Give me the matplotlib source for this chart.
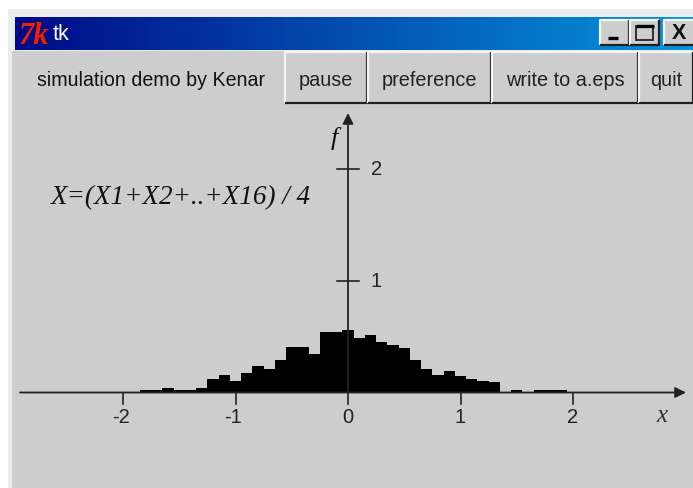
import numpy as np
import matplotlib
matplotlib.use("Agg")
import matplotlib.pyplot as plt
from matplotlib.patches import Rectangle

W, H = 693, 489
bin_left = -1.85
bin_width = 0.1
density = [0.024, 0.024, 0.038, 0.024, 0.024, 0.038, 0.125, 0.158, 0.107, 0.176,
           0.241, 0.208, 0.292, 0.408, 0.408, 0.342, 0.542, 0.542, 0.556,
           0.491, 0.509, 0.455, 0.426, 0.393, 0.292, 0.208, 0.158, 0.190, 0.143,
           0.125, 0.107, 0.092, 0.0, 0.024, 0.006, 0.024, 0.024, 0.024, 0.0]
x_ticks = [-2, -1, 0, 1, 2]
y_ticks = [1, 2]
buttons = [("pause", 285, 367), ("preference", 368, 491), ("write to a.eps", 492, 638), ("quit", 639, 693)]
title_text = "tk"
header_label = "simulation demo by Kenar"
formula = "X=(X1+X2+..+X16) / 4"

GREY = "#cdcdcd"
SANS = "Liberation Sans"
SERIF = "Liberation Serif"

fig = plt.figure(figsize=(W / 100, H / 100), dpi=100, facecolor="white")

# window chrome in pixel coordinates
ui = fig.add_axes([0, 0, 1, 1], zorder=1)
ui.set_xlim(0, W); ui.set_ylim(H, 0); ui.axis("off")
ui.add_patch(Rectangle((8, 10), W, H, fc="#ececec", ec="none"))
ui.add_patch(Rectangle((12, 52), W, H, fc=GREY, ec="none"))
grad = np.linspace(0, 1, 256)[None, :, None]
c0, c1 = np.array([0, 10, 135]) / 255, np.array([5, 150, 220]) / 255
ui.imshow(c0 + (c1 - c0) * grad, extent=(15, W, 51, 18), aspect="auto", interpolation="bilinear", zorder=1)
ui.set_xlim(0, W); ui.set_ylim(H, 0)
ui.text(34, 36, "7k", color="#f02000", fontsize=22, fontweight="bold", family=SERIF, style="italic",
        ha="center", va="center", zorder=3)
ui.text(53, 34.5, title_text, color="white", fontsize=15.5, family=SANS, va="center", zorder=3)


def raised(x0, y0, x1, y1, lw=1.6):
    ui.add_patch(Rectangle((x0, y0), x1 - x0, y1 - y0, fc=GREY, ec="none", zorder=2))
    ui.plot([x0, x0, x1], [y1, y0, y0], color="#f4f4f4", lw=lw, zorder=3, solid_capstyle="butt")
    ui.plot([x0, x1, x1], [y1, y1, y0], color="#202020", lw=lw, zorder=3, solid_capstyle="butt")


raised(600, 21, 629, 45.5)
raised(630, 21, 659, 45.5)
raised(664, 21, 700, 45.5)
ui.plot([608, 618], [39, 39], color="black", lw=2.4, zorder=4, solid_capstyle="butt")
ui.add_patch(Rectangle((636, 27), 17, 14, fc="none", ec="#222222", lw=1.3, zorder=4))
ui.plot([635.5, 653.5], [27, 27], color="black", lw=2.4, zorder=4, solid_capstyle="butt")
ui.text(679.5, 33.5, "X", color="#111111", fontsize=15.5, fontweight="bold", family=SANS, ha="center", va="center", zorder=4)

ui.text(151.5, 80, header_label, color="#111111", fontsize=14.1, family=SANS, ha="center", va="center", zorder=4)
for label, x0, x1 in buttons:
    raised(x0, 53, x1, 104)
    ui.text(min((x0 + x1) / 2, 668.5), 80, label, color="#222222", fontsize=14.3, family=SANS, ha="center", va="center", zorder=4)

# plot axes spanning the figure, data scale matched to the tick spacing
ax = fig.add_axes([0, 0, 1, 1], zorder=2)
ax.patch.set_alpha(0)
sx, sy = 112.5, 112.0
y0_px = 393.5
ax.set_xlim(-348 / sx, (W - 348) / sx)
ax.set_ylim(-(H - y0_px) / sy, y0_px / sy)
ax.axis("off")
edges = bin_left + bin_width * np.arange(len(density))
ax.bar(edges, density, width=bin_width, align="edge", color="black", lw=0, zorder=2)

line = "#222222"
ax.annotate("", xy=((686 - 348) / sx, 0), xytext=((20 - 348) / sx, 0),
            arrowprops=dict(arrowstyle="-|>", color=line, lw=1.3, shrinkA=0, shrinkB=0, mutation_scale=16))
ax.annotate("", xy=(0, (y0_px - 114) / sy), xytext=(0, 0),
            arrowprops=dict(arrowstyle="-|>", color=line, lw=1.3, shrinkA=0, shrinkB=0, mutation_scale=16))
for t in x_ticks:
    ax.plot([t, t], [0, -11 / sy], color=line, lw=1.2, zorder=3)
    ax.text(t - (0.018 if t < 0 else 0), -24 / sy, str(t), fontsize=14.5, family=SANS, color="#222222", ha="center", va="center")
for t in y_ticks:
    ax.plot([-11 / sx, 11 / sx], [t, t], color=line, lw=1.2, zorder=3)
    ax.text(23 / sx, t, str(t), fontsize=14.5, family=SANS, color="#222222", ha="left", va="center")
ax.text((334 - 348) / sx, (y0_px - 138) / sy, "f", fontsize=19, family=SERIF, style="italic", color="#111111", ha="center", va="center")
ax.text((662 - 348) / sx, (y0_px - 416) / sy, "x", fontsize=18, family=SERIF, style="italic", color="#333333", ha="center", va="center")
ax.text((180.5 - 348) / sx, (y0_px - 198) / sy, formula, fontsize=19.5, family=SERIF, style="italic", color="#111111", ha="center", va="center")

fig.savefig("out.png", dpi=100)
